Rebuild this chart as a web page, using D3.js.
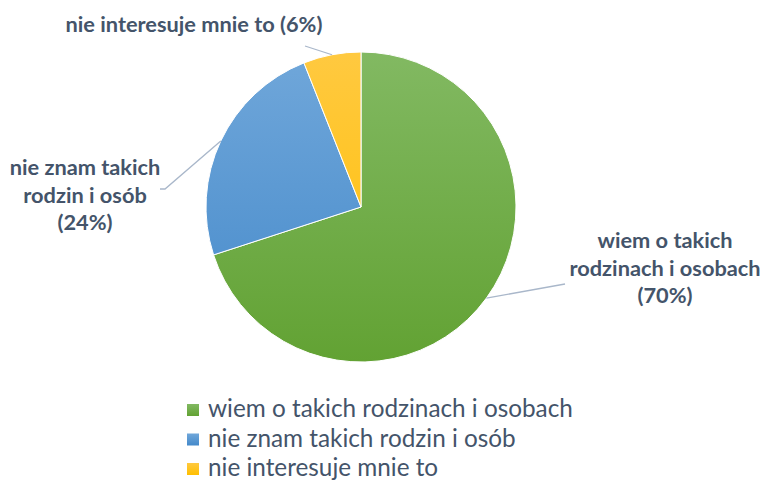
<!DOCTYPE html>
<html><head><meta charset="utf-8">
<script src="https://cdn.jsdelivr.net/npm/d3@7"></script>
<style>body{margin:0;background:#fff}svg{display:block}</style>
</head><body>
<svg id="c" width="765" height="480"></svg>
<script>
const categories = ["wiem o takich rodzinach i osobach", "nie znam takich rodzin i osób", "nie interesuje mnie to"];
const values = [70, 24, 6];
const labelLines = [["wiem o takich", "rodzinach i osobach", "(70%)"], ["nie znam takich", "rodzin i osób", "(24%)"], ["nie interesuje mnie to (6%)"]];
const colorsTop = ["#82b962", "#70a7da", "#ffc940"];
const colorsBot = ["#62a233", "#4489ca", "#ffbf00"];

const svg = d3.select("#c");
const cx = 361, cy = 207, r = 155;
const textColor = "#44546a";
const font = "Lato, 'Open Sans', sans-serif";

const defs = svg.append("defs");
colorsTop.forEach((c, i) => {
  const g = defs.append("linearGradient").attr("id", "g" + i)
    .attr("gradientUnits", "userSpaceOnUse")
    .attr("x1", 0).attr("y1", cy - r).attr("x2", 0).attr("y2", cy + r);
  g.append("stop").attr("offset", "0%").attr("stop-color", c);
  g.append("stop").attr("offset", "100%").attr("stop-color", colorsBot[i]);
});

const pie = d3.pie().sort(null).value(d => d)(values);
const arc = d3.arc().innerRadius(0).outerRadius(r);
const gp = svg.append("g").attr("transform", `translate(${cx},${cy})`);
gp.selectAll("path").data(pie).join("path")
  .attr("d", arc)
  .attr("fill", (d, i) => `url(#g${i})`)
  .attr("transform", `translate(0,0)`)
  .attr("stroke", "#fff").attr("stroke-width", 1);
// gradients are in user space relative to the group; fix by offsetting
defs.selectAll("linearGradient").attr("y1", -r).attr("y2", r);

// leader lines
const outerPt = d => { const a = (d.startAngle + d.endAngle) / 2; return [cx + r * Math.sin(a), cy - r * Math.cos(a)]; };
const leaderEnds = [[[565, 284]], [[165, 189], [160, 189]], [[305, 46]]];
pie.forEach((d, i) => {
  const pts = [outerPt(d), ...leaderEnds[i]];
  svg.append("path").attr("d", d3.line()(pts)).attr("fill", "none")
    .attr("stroke", "#a9b7ca").attr("stroke-width", 1.3);
});

// label font calibration
function fitSize(str, weight, target) {
  const t = svg.append("text").attr("font-family", font).attr("font-weight", weight)
    .attr("font-size", 20).text(str);
  const w = t.node().getComputedTextLength(); t.remove();
  return 20 * target / w;
}
const labSize = fitSize("nie interesuje mnie to (6%)", "bold", 257);
const labelPos = [{x: 665, y: 248}, {x: 85, y: 175}, {x: 194, y: 32}];
labelLines.forEach((lines, i) => {
  const t = svg.append("text").attr("font-family", font).attr("font-weight", "bold")
    .attr("font-size", labSize).attr("fill", textColor).attr("text-anchor", "middle");
  lines.forEach((l, j) => t.append("tspan").attr("x", labelPos[i].x).attr("y", labelPos[i].y + j * 27.5).text(l));
});

// legend
const legSize = fitSize(categories[0], "normal", 365);
const lg = svg.append("g");
categories.forEach((c, i) => {
  const y = 410 + i * 29.5;
  lg.append("rect").attr("x", 187).attr("y", y - 6).attr("width", 12).attr("height", 12)
    .attr("fill", `url(#lg${i})`);
  lg.append("text").attr("x", 208).attr("y", y + 7).attr("font-family", font)
    .attr("font-size", legSize).attr("fill", textColor).text(c);
});
categories.forEach((c, i) => {
  const g = defs.append("linearGradient").attr("id", "lg" + i).attr("x1", 0).attr("y1", 0).attr("x2", 0).attr("y2", 1);
  g.append("stop").attr("offset", "0%").attr("stop-color", colorsTop[i]);
  g.append("stop").attr("offset", "100%").attr("stop-color", colorsBot[i]);
});
</script>
</body></html>
